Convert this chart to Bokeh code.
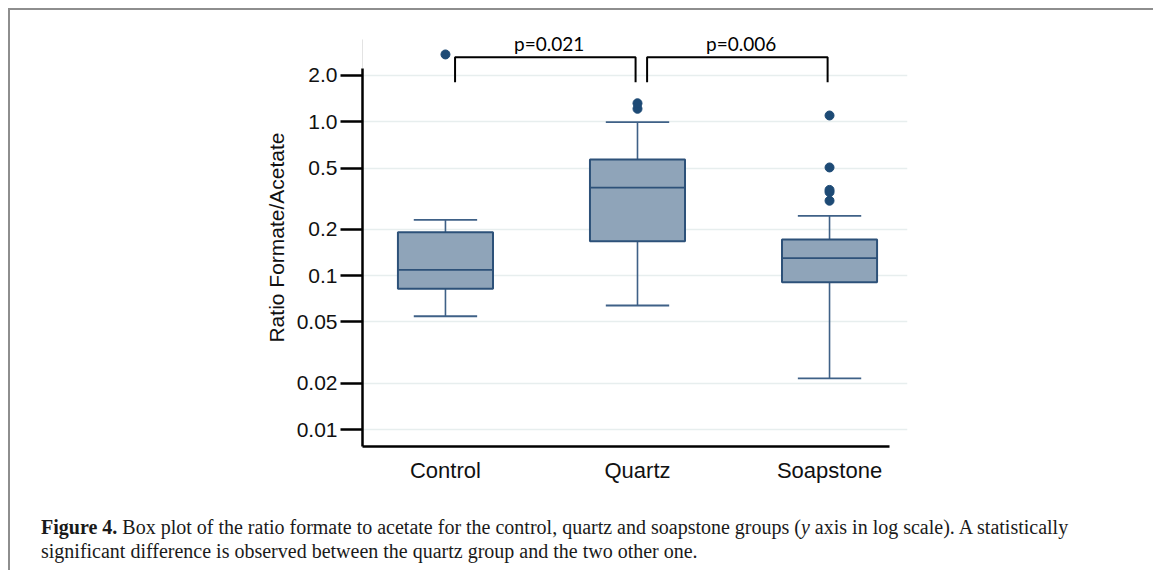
from bokeh.plotting import figure
from bokeh.layouts import column
from bokeh.models import FixedTicker, Div
from bokeh.core.properties import value
from bokeh.embed import file_html
from bokeh.resources import INLINE

# ---------------- data ----------------
categories = ["Control", "Quartz", "Soapstone"]
group_pos = [1, 2, 3]
q1 = [0.0821, 0.1675, 0.0907]
medians = [0.109, 0.374, 0.130]
q3 = [0.1916, 0.569, 0.172]
whisker_low = [0.0545, 0.064, 0.0215]
whisker_high = [0.2307, 0.994, 0.245]
outlier_group = [1, 2, 2, 3, 3, 3, 3, 3]
outlier_value = [2.74, 1.215, 1.32, 0.307, 0.349, 0.361, 0.505, 1.099]

y_ticks = [0.01, 0.02, 0.05, 0.1, 0.2, 0.5, 1.0, 2.0]
y_tick_labels = ["0.01", "0.02", "0.05", "0.1", "0.2", "0.5", "1.0", "2.0"]

bracket_left = [1, 2]
bracket_right = [2, 3]
p_labels = ["p=0.021", "p=0.006"]
bracket_top = 2.63
bracket_foot = 1.81

caption_bold = "Figure 4."
caption_a = "Box plot of the ratio formate to acetate for the control, quartz and soapstone groups ("
caption_y = "y"
caption_c = "axis in log scale). A statistically"
caption_line2 = "significant difference is observed between the quartz group and the two other one."

# ---------------- layout ----------------
W = 1135
H1 = 495
H2 = 57
ML, MT, MR, MB = 352, 18, 238, 59
x_lo, x_hi = 0.568, 3.406
y_lo, y_hi = 0.00776, 4.04
grey_top = 3.43
y_axis_top = 2.22
x_axis_right = 3.31

BOX_W = 0.495
CAP_W = 0.33
box_fill = "#8fa4b9"
box_line = "#2d5179"
whisk_col = "#3f6187"
dot_col = "#1d4a75"

p = figure(width=W, height=H1, x_range=(x_lo, x_hi), y_range=(y_lo, y_hi),
           y_axis_type="log", output_backend="svg", toolbar_location=None,
           min_border_left=ML, min_border_top=MT, min_border_right=MR,
           min_border_bottom=MB)
p.outline_line_color = None
p.background_fill_color = "white"
p.border_fill_color = "white"

# axes
p.yaxis.ticker = FixedTicker(ticks=y_ticks)
p.yaxis.major_label_overrides = {t: l for t, l in zip(y_ticks, y_tick_labels)}
p.yaxis.bounds = (y_lo, y_axis_top)
p.yaxis.axis_line_width = 2.5
p.yaxis.axis_line_color = "black"
p.yaxis.major_tick_line_width = 2.5
p.yaxis.major_tick_line_color = "black"
p.yaxis.major_tick_out = 22
p.yaxis.major_tick_in = 0
p.yaxis.minor_tick_line_color = None
p.yaxis.major_label_standoff = 3
p.yaxis.major_label_text_font = "Liberation Sans"
p.yaxis.major_label_text_font_size = "21px"
p.yaxis.major_label_text_color = "#111111"
p.yaxis.axis_label = "Ratio Formate/Acetate"
p.yaxis.axis_label_text_font = "Liberation Sans"
p.yaxis.axis_label_text_font_size = "21px"
p.yaxis.axis_label_text_font_style = "normal"
p.yaxis.axis_label_text_color = "#111111"
p.yaxis.axis_label_standoff = 6

p.xaxis.ticker = FixedTicker(ticks=group_pos)
p.xaxis.major_label_overrides = {g: c for g, c in zip(group_pos, categories)}
p.xaxis.bounds = (x_lo, x_axis_right)
p.xaxis.axis_line_width = 2.5
p.xaxis.axis_line_color = "black"
p.xaxis.major_tick_line_color = None
p.xaxis.minor_tick_line_color = None
p.xaxis.major_label_standoff = 5
p.xaxis.major_label_text_font = "Liberation Sans"
p.xaxis.major_label_text_font_size = "22px"
p.xaxis.major_label_text_color = "#111111"

p.xgrid.visible = False
p.ygrid.grid_line_color = "#e7eeee"
p.ygrid.grid_line_width = 1.5

# thin grey extension of the left frame above the axis
p.segment(x0=[x_lo], y0=[y_axis_top], x1=[x_lo], y1=[grey_top], line_color="#c8c8c8", line_width=1)

# whiskers
p.segment(x0=group_pos, y0=q3, x1=group_pos, y1=whisker_high, line_color=whisk_col, line_width=1.6)
p.segment(x0=group_pos, y0=q1, x1=group_pos, y1=whisker_low, line_color=whisk_col, line_width=1.6)
cap_l = [g - CAP_W / 2 for g in group_pos]
cap_r = [g + CAP_W / 2 for g in group_pos]
p.segment(x0=cap_l, y0=whisker_high, x1=cap_r, y1=whisker_high, line_color=whisk_col, line_width=1.8)
p.segment(x0=cap_l, y0=whisker_low, x1=cap_r, y1=whisker_low, line_color=whisk_col, line_width=1.8)

# boxes
p.vbar(x=group_pos, width=BOX_W, bottom=q1, top=q3, fill_color=box_fill,
       line_color=box_line, line_width=2)
box_l = [g - BOX_W / 2 for g in group_pos]
box_r = [g + BOX_W / 2 for g in group_pos]
p.segment(x0=box_l, y0=medians, x1=box_r, y1=medians, line_color=box_line, line_width=1.8)

# outliers
p.scatter(x=outlier_group, y=outlier_value, size=9, fill_color=dot_col, line_color=dot_col)

# significance brackets
bx, by = [], []
for l, r in zip(bracket_left, bracket_right):
    bx.append([l + 0.05, l + 0.05, r - 0.01, r - 0.01])
    by.append([bracket_foot, bracket_top, bracket_top, bracket_foot])
p.multi_line(xs=bx, ys=by, line_color="black", line_width=2)
mids = [(l + r) / 2 + 0.04 for l, r in zip(bracket_left, bracket_right)]
p.text(x=mids, y=[bracket_top] * len(mids), text=p_labels, text_font=value("Lato"),
       text_font_size="19px", text_align="center", text_baseline="alphabetic",
       y_offset=-14, text_color="black")

# ---------------- caption ----------------
caption_html = (
    '<div style="padding:5px 0 0 26px; font-family:\'Liberation Serif\', serif; '
    'font-size:20px; line-height:24px; color:#1a1a1a; white-space:nowrap;">'
    f'<b>{caption_bold}</b> {caption_a}<i>{caption_y}</i> {caption_c}<br>'
    f'{caption_line2}</div>'
)
cap = Div(text=caption_html, width=W, height=H2)

layout = column(p, cap, spacing=0)
layout.styles = {"margin-top": "8px", "margin-left": "8px",
                 "border-top": "2px solid #8e8e8e", "border-left": "2px solid #8e8e8e"}

open("out.html", "w").write(file_html(layout, INLINE))
